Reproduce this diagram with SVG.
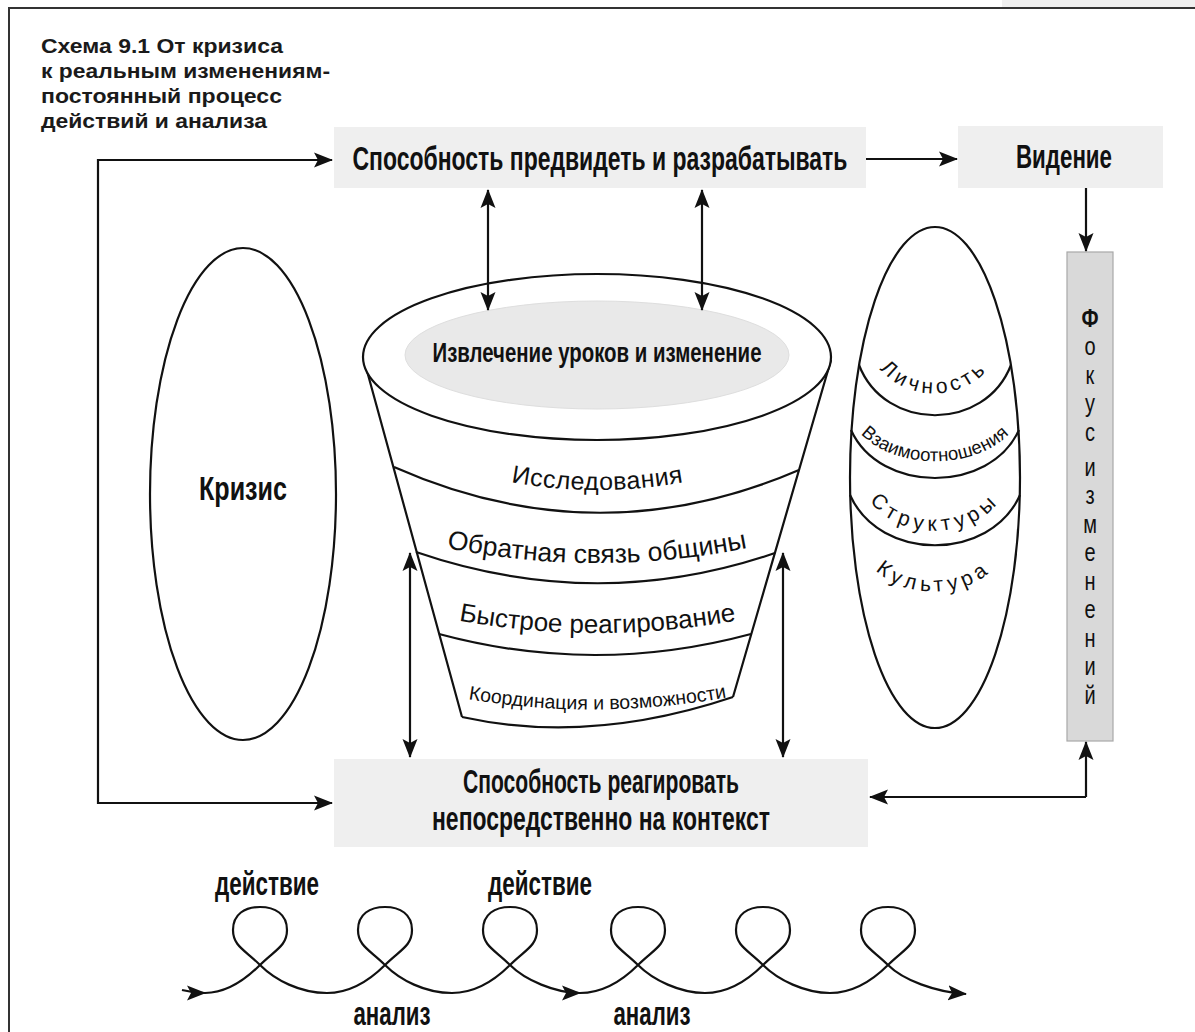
<svg xmlns="http://www.w3.org/2000/svg" width="1195" height="1032" viewBox="0 0 1195 1032">
<defs>
<style>
.ln{fill:none;stroke:#111;stroke-width:2.2}
.box{fill:#efefef}
.cond{font-family:"Liberation Sans",Arial,sans-serif;font-weight:bold;fill:#111}
.reg{font-family:"Liberation Sans",Arial,sans-serif;fill:#111}
.ttl{font-family:"Liberation Sans",Arial,sans-serif;font-weight:bold;font-size:21px;fill:#1a1a1a}
.ell{fill:none;stroke:#111;stroke-width:2.2}
</style>
<marker id="ah" markerUnits="userSpaceOnUse" markerWidth="20" markerHeight="16" viewBox="0 0 20 16" refX="18" refY="8" orient="auto-start-reverse">
<path d="M0,0.5 L19,8 L0,15.5 L4,8 z" fill="#111"/>
</marker>
<path id="pIss" d="M490,478 Q597,502 705,478"/>
<path id="pObr" d="M432,545 Q597,581 762,545"/>
<path id="pBys" d="M440,617 Q597,649 755,617"/>
<path id="pKoo" d="M455,697 Q597,723 740,695"/>
<path id="pLic" d="M868,350 C893,408 975,408 1000,350"/>
<path id="pVza" d="M852,423 C885,474 985,474 1018,423"/>
<path id="pStr" d="M862,488 C888,545 980,545 1008,488"/>
<path id="pKul" d="M870,563 C895,601 972,601 998,563"/>
</defs>

<g id="frame">
<rect x="1002" y="0" width="193" height="7" fill="#efefef"/>
<path d="M9,1032 V8 H1195" fill="none" stroke="#333" stroke-width="2"/>
</g>

<g id="title">
<text class="ttl" x="41" y="53" textLength="242" lengthAdjust="spacingAndGlyphs">Схема 9.1 От кризиса</text>
<text class="ttl" x="41" y="78" textLength="289" lengthAdjust="spacingAndGlyphs">к реальным изменениям-</text>
<text class="ttl" x="41" y="103" textLength="241" lengthAdjust="spacingAndGlyphs">постоянный процесс</text>
<text class="ttl" x="41" y="128" textLength="226" lengthAdjust="spacingAndGlyphs">действий и анализа</text>
</g>

<g id="node-top">
<rect class="box" x="334" y="127" width="532" height="61"/>
<text class="cond" transform="translate(600 170) scale(0.678 1)" x="0" y="0" font-size="34" text-anchor="middle" textLength="730" lengthAdjust="spacingAndGlyphs">Способность предвидеть и разрабатывать</text>
</g>

<g id="node-vision">
<rect class="box" x="958" y="126" width="205" height="62"/>
<text class="cond" transform="translate(1064 168) scale(0.653 1)" x="0" y="0" font-size="34" text-anchor="middle" textLength="147" lengthAdjust="spacingAndGlyphs">Видение</text>
</g>

<g id="node-focus">
<rect x="1067" y="252" width="46" height="489" fill="#d9d9d9" stroke="#a8a8a8" stroke-width="1.2"/>
<text class="reg" transform="translate(1090 0) scale(0.8 1)" font-size="25" text-anchor="middle" fill="#2a2a2a"><tspan x="0" y="327" font-weight="bold">Ф</tspan><tspan x="0" y="355.5">о</tspan><tspan x="0" y="384">к</tspan><tspan x="0" y="412.5">у</tspan><tspan x="0" y="441">с</tspan><tspan x="0" y="476">и</tspan><tspan x="0" y="504.5">з</tspan><tspan x="0" y="533">м</tspan><tspan x="0" y="561.5">е</tspan><tspan x="0" y="590">н</tspan><tspan x="0" y="618.5">е</tspan><tspan x="0" y="647">н</tspan><tspan x="0" y="675.5">и</tspan><tspan x="0" y="704">й</tspan></text>
</g>

<g id="node-crisis">
<ellipse class="ell" cx="243" cy="494" rx="93" ry="246"/>
<text class="cond" x="243" y="500" font-size="34" text-anchor="middle" textLength="88" lengthAdjust="spacingAndGlyphs">Кризис</text>
</g>

<g id="node-funnel">
<path class="ln" d="M364,360 L462,717 M831,360 L733,697"/>
<path class="ln" d="M462,717 Q590,745 733,697"/>
<path class="ln" d="M394,467 Q597,557 799,470"/>
<path class="ln" d="M416,552 Q597,614 775,553"/>
<path class="ln" d="M439,634 Q595,676 751,634"/>
<ellipse cx="597" cy="357" rx="234" ry="83" fill="#fff" stroke="#111" stroke-width="2.2"/>
<ellipse cx="597" cy="355" rx="192" ry="54" fill="#e9e9e9" stroke="#dedede" stroke-width="1"/>
<text class="cond" x="597" y="362" font-size="28" text-anchor="middle" textLength="329" lengthAdjust="spacingAndGlyphs">Извлечение уроков и изменение</text>
<text class="reg" font-size="25" letter-spacing="0.5"><textPath href="#pIss" startOffset="50%" text-anchor="middle">Исследования</textPath></text>
<text class="reg" font-size="26.5"><textPath href="#pObr" startOffset="50%" text-anchor="middle">Обратная связь общины</textPath></text>
<text class="reg" font-size="26"><textPath href="#pBys" startOffset="50%" text-anchor="middle">Быстрое реагирование</textPath></text>
<text class="reg" font-size="19.5"><textPath href="#pKoo" startOffset="50%" text-anchor="middle">Координация и возможности</textPath></text>
</g>

<g id="node-levels">
<ellipse class="ell" cx="935" cy="477.5" rx="85" ry="250.5"/>
<path class="ln" d="M859,365 C885,432 985,432 1011,365"/>
<path class="ln" d="M851,430 C880,494 990,494 1019,430"/>
<path class="ln" d="M850,495 C880,562 990,562 1020,495"/>
<text class="reg" font-size="21" letter-spacing="4"><textPath href="#pLic" startOffset="50%" text-anchor="middle">Личность</textPath></text>
<text class="reg" font-size="18.5" letter-spacing="0.2"><textPath href="#pVza" startOffset="50%" text-anchor="middle">Взаимоотношения</textPath></text>
<text class="reg" font-size="21" letter-spacing="5"><textPath href="#pStr" startOffset="50%" text-anchor="middle">Структуры</textPath></text>
<text class="reg" font-size="21" letter-spacing="5"><textPath href="#pKul" startOffset="50%" text-anchor="middle">Культура</textPath></text>
</g>

<g id="node-bottom">
<rect class="box" x="334" y="759" width="534" height="88"/>
<text class="cond" x="601" y="793" font-size="34" text-anchor="middle" textLength="276" lengthAdjust="spacingAndGlyphs">Способность реагировать</text>
<text class="cond" x="601" y="830" font-size="34" text-anchor="middle" textLength="338" lengthAdjust="spacingAndGlyphs">непосредственно на контекст</text>
</g>

<g id="connectors">
<path class="ln" d="M98,480 V160 H332" marker-end="url(#ah)"/>
<path class="ln" d="M98,480 V803 H332" marker-end="url(#ah)"/>
<path class="ln" d="M866,159 H957" marker-end="url(#ah)"/>
<path class="ln" d="M1086,188 V251" marker-end="url(#ah)"/>
<path class="ln" d="M488,190 V310" marker-start="url(#ah)" marker-end="url(#ah)"/>
<path class="ln" d="M702,190 V310" marker-start="url(#ah)" marker-end="url(#ah)"/>
<path class="ln" d="M410,553 V757" marker-start="url(#ah)" marker-end="url(#ah)"/>
<path class="ln" d="M783,553 V757" marker-start="url(#ah)" marker-end="url(#ah)"/>
<path class="ln" d="M1086,797 H870" marker-end="url(#ah)"/>
<path class="ln" d="M1086,797 V742" marker-end="url(#ah)"/>
</g>

<g id="spiral">
<path class="ln" d="M182,990 C190,992 197,993 205,993" marker-end="url(#ah)"/>
<path class="ln" d="M205,993 C225,993 245,980 260,965 C275,950 287,946 287,930 C287,914 275,907 260,907 C245,907 233,914 233,930 C233,946 245,950 260,965 C275,980 300,993 327,993 C350,993 370,980 385,965 C400,950 412,946 412,930 C412,914 400,907 385,907 C370,907 358,914 358,930 C358,946 370,950 385,965 C400,980 425,993 452,993 C475,993 495,980 510,965 C525,950 537,946 537,930 C537,914 525,907 510,907 C495,907 483,914 483,930 C483,946 495,950 510,965 C525,980 555,993 580,993" marker-end="url(#ah)"/>
<path class="ln" d="M580,993 C603,993 623,980 638,965 C653,950 665,946 665,930 C665,914 653,907 638,907 C623,907 611,914 611,930 C611,946 623,950 638,965 C653,980 680,993 705,993 C728,993 748,980 763,965 C778,950 790,946 790,930 C790,914 778,907 763,907 C748,907 736,914 736,930 C736,946 748,950 763,965 C778,980 805,993 830,993 C853,993 873,980 888,965 C903,950 915,946 915,930 C915,914 903,907 888,907 C873,907 861,914 861,930 C861,946 873,950 888,965 C903,980 935,992 966,994" marker-end="url(#ah)"/>
<text class="cond" x="267" y="895" font-size="33" text-anchor="middle" textLength="104" lengthAdjust="spacingAndGlyphs">действие</text>
<text class="cond" x="540" y="895" font-size="33" text-anchor="middle" textLength="104" lengthAdjust="spacingAndGlyphs">действие</text>
<text class="cond" x="392" y="1025" font-size="33" text-anchor="middle" textLength="77" lengthAdjust="spacingAndGlyphs">анализ</text>
<text class="cond" x="652" y="1025" font-size="33" text-anchor="middle" textLength="77" lengthAdjust="spacingAndGlyphs">анализ</text>
</g>
</svg>
